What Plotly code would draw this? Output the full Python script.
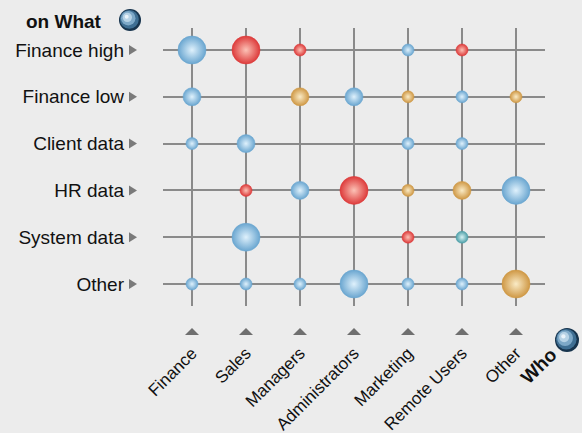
import plotly.graph_objects as go

# ---- data ----
what_rows = ["Finance high", "Finance low", "Client data", "HR data", "System data", "Other"]
who_cols = ["Finance", "Sales", "Managers", "Administrators", "Marketing", "Remote Users", "Other"]

pt_who = ["Finance", "Sales", "Managers", "Marketing", "Remote Users",
          "Finance", "Managers", "Administrators", "Marketing", "Remote Users", "Other",
          "Finance", "Sales", "Marketing", "Remote Users",
          "Sales", "Managers", "Administrators", "Marketing", "Remote Users", "Other",
          "Sales", "Marketing", "Remote Users",
          "Finance", "Sales", "Managers", "Administrators", "Marketing", "Remote Users", "Other"]
pt_what = ["Finance high"] * 5 + ["Finance low"] * 6 + ["Client data"] * 4 + \
          ["HR data"] * 6 + ["System data"] * 3 + ["Other"] * 7
pt_level = [3, 3, 1, 1, 1,
            2, 2, 2, 1, 1, 1,
            1, 2, 1, 1,
            1, 2, 3, 1, 2, 3,
            3, 1, 1,
            1, 1, 1, 3, 1, 1, 3]
pt_color = ["b", "r", "r", "b", "r",
            "b", "o", "b", "o", "b", "o",
            "b", "b", "b", "b",
            "r", "b", "r", "o", "o", "b",
            "b", "r", "t",
            "b", "b", "b", "b", "b", "b", "o"]

# ---- styles ----
size_px = {1: 12, 2: 18, 3: 28}
palette = {  # center, edge
    "b": ("#dff1fc", "#6aa6d0"),
    "r": ("#fcc2b6", "#dd3b3b"),
    "o": ("#faebc6", "#cf9845"),
    "t": ("#d6f2f3", "#4d9fa8"),
}
BG = "#ececec"
GRID = "#8a8a8a"
FONT = "Liberation Sans, Arial, sans-serif"

W, H = 582, 433
L, R, T, B = 163, 37, 28, 127
PW, PH = W - L - R, H - T - B
xr = [-0.537, len(who_cols) - 1 + 0.537]
yr = [len(what_rows) - 1 + 0.47, -0.47]


def px_paper(px, py):
    return (px - L) / PW, (T + PH - py) / PH


fig = go.Figure()

xi = {c: i for i, c in enumerate(who_cols)}
yi = {r: i for i, r in enumerate(what_rows)}

for key, (c_in, c_out) in palette.items():
    idx = [k for k, c in enumerate(pt_color) if c == key]
    fig.add_trace(go.Scatter(
        x=[xi[pt_who[k]] for k in idx],
        y=[yi[pt_what[k]] for k in idx],
        mode="markers",
        marker=dict(size=[size_px[pt_level[k]] for k in idx], color=c_out, opacity=1,
                    gradient=dict(type="radial", color=c_in),
                    line=dict(width=0.6, color=c_out)),
        hoverinfo="skip", showlegend=False, cliponaxis=False,
    ))

shapes = []
# triangles under each column
_, tri_y = px_paper(0, 332)
for i in range(len(who_cols)):
    shapes.append(dict(type="path", xref="x", yref="paper", xsizemode="pixel",
                       ysizemode="pixel", xanchor=i, yanchor=tri_y,
                       path="M-7,-3 L7,-3 L0,4 Z",
                       fillcolor="#6f6f6f", line=dict(width=0)))
# triangles after each row label
tri_x, _ = px_paper(133, 0)
for j in range(len(what_rows)):
    shapes.append(dict(type="path", xref="paper", yref="y", xsizemode="pixel",
                       ysizemode="pixel", xanchor=tri_x, yanchor=j,
                       path="M-4,-5 L-4,5 L4,0 Z",
                       fillcolor="#7a7a7a", line=dict(width=0)))


# decorative spheres (layered circles)
def sphere(px, py, r):
    ax, ay = px_paper(px, py)
    layers = [(1.0, 0, 0, "#17344d"), (0.86, -0.06, 0.06, "#3f6f93"),
              (0.66, -0.16, 0.16, "#7ea9c8"), (0.42, -0.24, 0.24, "#b7d3e6"),
              (0.18, -0.3, 0.3, "#e9f3fa")]
    out = []
    for f, dx, dy, col in layers:
        cx, cy = dx * r, dy * r
        out.append(dict(type="circle", xref="paper", yref="paper", xsizemode="pixel",
                        ysizemode="pixel", xanchor=ax, yanchor=ay,
                        x0=cx - f * r, x1=cx + f * r, y0=cy - f * r, y1=cy + f * r,
                        fillcolor=col, line=dict(width=0)))
    return out


shapes += sphere(130, 20, 11)
shapes += sphere(567, 340, 12)

wx, wy = px_paper(64, 22)
hx, hy = px_paper(538, 366)

fig.update_layout(
    width=W, height=H,
    margin=dict(l=L, r=R, t=T, b=B),
    paper_bgcolor=BG, plot_bgcolor=BG,
    font=dict(family=FONT, size=18, color="#111111"),
    xaxis=dict(range=xr, tickmode="array", tickvals=list(range(len(who_cols))),
               ticktext=who_cols, tickangle=-45, showgrid=True, gridcolor=GRID,
               gridwidth=2, zeroline=False, showline=False, ticks="",
               automargin=False, ticklabelstandoff=33, tickfont=dict(size=17)),
    yaxis=dict(range=yr, tickmode="array", tickvals=list(range(len(what_rows))),
               ticktext=what_rows, showgrid=True, gridcolor=GRID,
               gridwidth=2, zeroline=False, showline=False, ticks="",
               automargin=False, ticklabelstandoff=38, tickfont=dict(size=19)),
    shapes=shapes,
    annotations=[
        dict(text="<b>on What</b>", xref="paper", yref="paper", x=wx, y=wy,
             xanchor="center", yanchor="middle", showarrow=False, font=dict(size=19)),
        dict(text="<b>Who</b>", xref="paper", yref="paper", x=hx, y=hy,
             xanchor="center", yanchor="middle", showarrow=False, textangle=-45,
             font=dict(size=19)),
    ],
)

fig.write_html("out.html", post_script="document.body.style.margin='0';",
               config={"displayModeBar": False})
